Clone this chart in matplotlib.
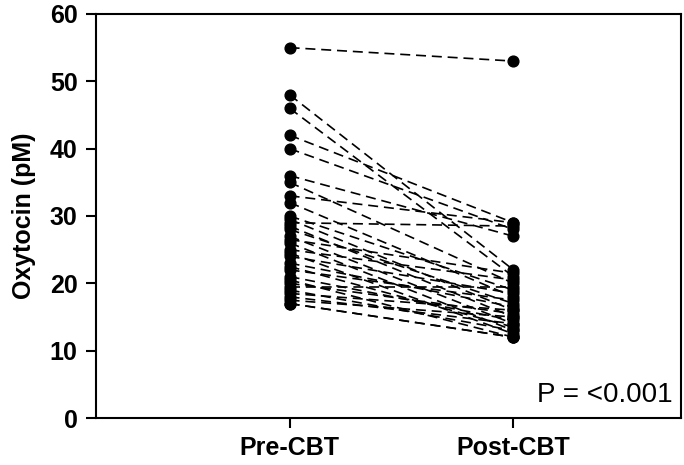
import matplotlib
matplotlib.use("Agg")
import matplotlib.pyplot as plt

groups = ["Pre-CBT", "Post-CBT"]
pre = [55, 48, 46, 42, 40, 36, 35, 33, 32, 30, 29.5, 29, 28.5, 28, 27, 26.5, 26, 25,
       24.5, 24, 23, 22.5, 22, 21, 20.5, 20, 19.5, 19, 18.5, 18, 17.5, 17, 17]
post = [53, 22, 21, 29, 28, 27, 20, 29, 18, 19, 16, 28.5, 15, 17, 14, 21.5, 13, 20.5,
        12.5, 18.5, 16.5, 13.5, 17.5, 14.5, 12, 15.5, 19.5, 13, 16, 14, 15, 12, 12]
yticks = [0, 10, 20, 30, 40, 50, 60]
ptext = "P = <0.001"

plt.rcParams['font.family'] = ['Liberation Sans', 'DejaVu Sans']

fig = plt.figure(figsize=(6.84, 4.65), dpi=100)
ax = fig.add_axes([0.140, 0.101, 0.856, 0.869])

xs = [1, 2]
for a, b in zip(pre, post):
    ax.plot(xs, [a, b], color='black', lw=1.2, linestyle=(0, (6, 3.5)), zorder=1)
ax.scatter([1] * len(pre), pre, s=60, color='black', zorder=3)
ax.scatter([2] * len(post), post, s=60, color='black', zorder=3)

ax.set_xlim(0.134, 2.75)
ax.set_ylim(0, 60)
ax.set_yticks(yticks)
ax.set_yticklabels([str(t) for t in yticks], fontsize=18, fontweight='bold')
ax.set_xticks(xs)
ax.set_xticklabels(groups, fontsize=18, fontweight='bold')
ax.set_ylabel("Oxytocin (pM)", fontsize=18, fontweight='bold', labelpad=10)
ax.tick_params(axis='y', direction='out', length=7, width=1.5, pad=6)
ax.tick_params(axis='x', direction='out', length=7, width=1.5, pad=6)
for s in ax.spines.values():
    s.set_linewidth(1.5)
ax.text(0.985, 0.025, ptext, transform=ax.transAxes, ha='right', va='bottom', fontsize=20)

fig.savefig("out.png", dpi=100)
